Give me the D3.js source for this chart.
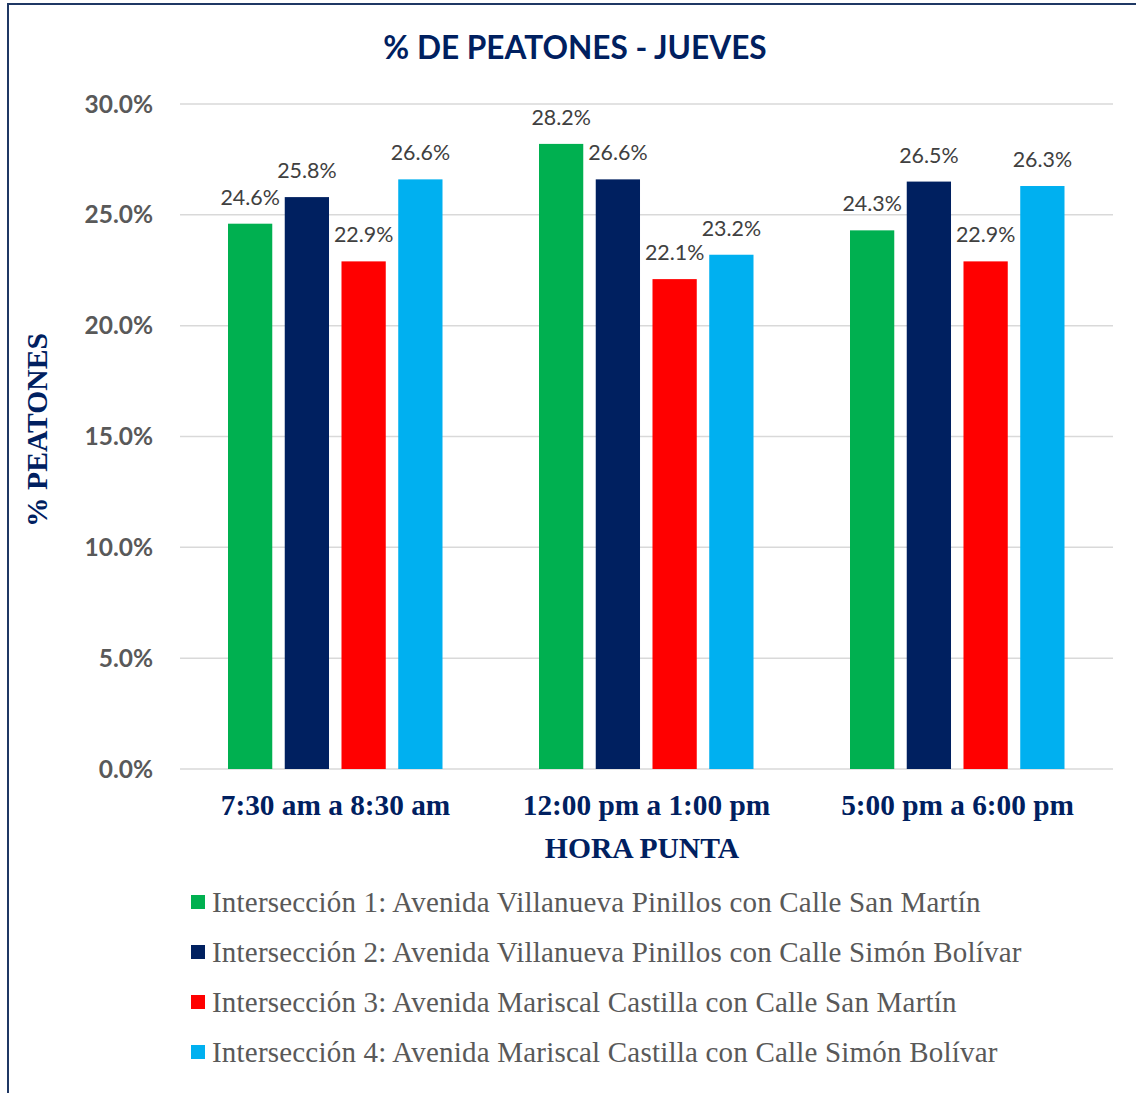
<!DOCTYPE html>
<html><head><meta charset="utf-8">
<script src="https://cdn.jsdelivr.net/npm/d3@7"></script>
<style>html,body{margin:0;padding:0;background:#fff;}svg{display:block;}</style>
</head><body>
<script>
const categories = ["7:30 am a 8:30 am", "12:00 pm a 1:00 pm", "5:00 pm a 6:00 pm"];
const seriesNames = [
  "Intersección 1: Avenida Villanueva Pinillos con Calle San Martín",
  "Intersección 2: Avenida Villanueva Pinillos con Calle Simón Bolívar",
  "Intersección 3: Avenida Mariscal Castilla con Calle San Martín",
  "Intersección 4: Avenida Mariscal Castilla con Calle Simón Bolívar"
];
const series1 = [24.6, 28.2, 24.3];
const series2 = [25.8, 26.6, 26.5];
const series3 = [22.9, 22.1, 22.9];
const series4 = [26.6, 23.2, 26.3];
const colors = ["#00B050", "#002060", "#FF0000", "#00B0F0"];
const yTicks = [0, 5, 10, 15, 20, 25, 30];
const title = "% DE PEATONES - JUEVES";
const yTitle = "% PEATONES";
const xTitle = "HORA PUNTA";

const allSeries = [series1, series2, series3, series4];
const W = 1136, H = 1093;
const svg = d3.select("body").append("svg").attr("width", W).attr("height", H);

// border
svg.append("rect").attr("x", 8).attr("y", 4).attr("width", W + 20).attr("height", H + 20)
  .attr("fill", "#fff").attr("stroke", "#1F3864").attr("stroke-width", 2);

const plot = {left: 180, right: 1113, top: 104, bottom: 769};
const y = d3.scaleLinear().domain([0, 30]).range([plot.bottom, plot.top]);
const x0 = d3.scaleBand().domain(categories).range([plot.left, plot.right]).padding(0);
const x1 = d3.scaleBand().domain(d3.range(4)).range([48, 262.5]).paddingInner(0.22).paddingOuter(0);

// gridlines
svg.append("g").selectAll("line").data(yTicks).join("line")
  .attr("x1", plot.left).attr("x2", plot.right)
  .attr("y1", d => y(d)).attr("y2", d => y(d))
  .attr("stroke", "#D9D9D9").attr("stroke-width", 1.5);

// y tick labels
svg.append("g").selectAll("text").data(yTicks).join("text")
  .attr("x", 153).attr("y", d => y(d)).attr("dy", "0.35em")
  .attr("text-anchor", "end")
  .attr("font-family", "Lato, 'Open Sans', sans-serif").attr("font-weight", "bold")
  .attr("font-size", 24.5).attr("fill", "#595959")
  .text(d => d.toFixed(1) + "%");

// bars
const groups = svg.append("g").selectAll("g").data(categories).join("g")
  .attr("transform", d => `translate(${x0(d)},0)`);
groups.each(function(cat, ci) {
  const g = d3.select(this);
  const vals = allSeries.map((s, si) => ({si, v: s[ci]}));
  g.selectAll("rect").data(vals).join("rect")
    .attr("x", d => x1(d.si)).attr("width", x1.bandwidth())
    .attr("y", d => y(d.v)).attr("height", d => y(0) - y(d.v))
    .attr("fill", d => colors[d.si]);
  g.selectAll("text").data(vals).join("text")
    .attr("x", d => x1(d.si) + x1.bandwidth() / 2)
    .attr("y", d => y(d.v) - 19)
    .attr("text-anchor", "middle")
    .attr("font-family", "Lato, 'Open Sans', sans-serif")
    .attr("font-size", 21.4).attr("fill", "#404040")
    .text(d => d.v.toFixed(1) + "%");
});

// x tick labels
svg.append("g").selectAll("text").data(categories).join("text")
  .attr("x", d => x0(d) + x0.bandwidth() / 2).attr("y", 805).attr("dy", "0.35em")
  .attr("text-anchor", "middle")
  .attr("font-family", "'Liberation Serif', 'Times New Roman', serif").attr("font-weight", "bold")
  .attr("font-size", 29.3).attr("fill", "#002060")
  .text(d => d);

// x title
svg.append("text").attr("x", 642).attr("y", 848).attr("dy", "0.35em")
  .attr("text-anchor", "middle")
  .attr("font-family", "'Liberation Serif', 'Times New Roman', serif").attr("font-weight", "bold")
  .attr("font-size", 29.6).attr("fill", "#002060").text(xTitle);

// y title
svg.append("text").attr("transform", "translate(37,430) rotate(-90)").attr("dy", "0.35em")
  .attr("text-anchor", "middle")
  .attr("font-family", "'Liberation Serif', 'Times New Roman', serif").attr("font-weight", "bold")
  .attr("font-size", 29.6).attr("fill", "#002060").text(yTitle);

// title
svg.append("text").attr("x", 575).attr("y", 48).attr("dy", "0.35em")
  .attr("text-anchor", "middle")
  .attr("font-family", "Lato, 'Open Sans', sans-serif").attr("font-weight", "bold")
  .attr("font-size", 31.6).attr("fill", "#002060").text(title);

// legend
const leg = svg.append("g").selectAll("g").data(seriesNames).join("g")
  .attr("transform", (d, i) => `translate(191,${902 + i * 50})`);
leg.append("rect").attr("x", 0).attr("y", -7).attr("width", 14).attr("height", 14)
  .attr("fill", (d, i) => colors[i]);
leg.append("text").attr("x", 21).attr("y", 0).attr("dy", "0.35em")
  .attr("font-family", "'Liberation Serif', 'Times New Roman', serif")
  .attr("font-size", 29).attr("letter-spacing", 0.2).attr("fill", "#595959").text(d => d);
</script>
</body></html>
